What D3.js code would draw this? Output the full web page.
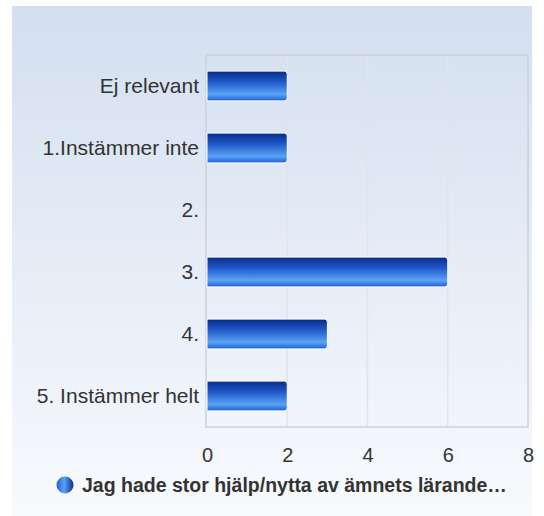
<!DOCTYPE html>
<html><head><meta charset="utf-8">
<script src="https://cdn.jsdelivr.net/npm/d3@7/dist/d3.min.js"></script>
<style>body{margin:0;background:#fff;}text{font-family:"Liberation Sans",Arial,sans-serif;}</style>
</head><body>
<svg id="c" width="544" height="516"></svg>
<script>
const categories = ["Ej relevant","1.Instämmer inte","2.","3.","4.","5. Instämmer helt"];
const values = [2,2,0,6,3,2];
const xTicks = [0,2,4,6,8];
const seriesName = "Jag hade stor hjälp/nytta av ämnets lärande…";

const svg = d3.select("#c");
const defs = svg.append("defs");
const bg = defs.append("linearGradient").attr("id","bg").attr("x1",0).attr("y1",0).attr("x2",0).attr("y2",1);
bg.append("stop").attr("offset","0%").attr("stop-color","#d3dff0");
bg.append("stop").attr("offset","100%").attr("stop-color","#f8fafd");
const bar = defs.append("linearGradient").attr("id","bar").attr("x1",0).attr("y1",0).attr("x2",0).attr("y2",1);
[["0%","#0a2a8a"],["35%","#1d57c6"],["78%","#5aa2f6"],["100%","#1f5fd0"]].forEach(([o,c])=>bar.append("stop").attr("offset",o).attr("stop-color",c));
const leg = defs.append("linearGradient").attr("id","leg").attr("x1",0).attr("y1",0).attr("x2",1).attr("y2",0);
[["0%","#1f5fd0"],["45%","#5aa2f6"],["100%","#0a2a8a"]].forEach(([o,c])=>leg.append("stop").attr("offset",o).attr("stop-color",c));

svg.append("rect").attr("x",12).attr("y",6).attr("width",520).attr("height",510).attr("fill","url(#bg)");

const L=207, R=528, T=55, B=427;
const x = d3.scaleLinear().domain([0,8]).range([L,R]);
const y = d3.scaleBand().domain(categories).range([T,B]).paddingInner(0.52).paddingOuter(0.26);

svg.append("g").selectAll("line").data(xTicks.slice(1,-1)).join("line")
  .attr("x1",d=>x(d)).attr("x2",d=>x(d)).attr("y1",T).attr("y2",B)
  .attr("stroke","#e2e4e8").attr("stroke-width",1.5);

svg.append("rect").attr("x",L-1).attr("y",T).attr("width",R-L+1).attr("height",B-T)
  .attr("fill","none").attr("stroke","#cfd0d3").attr("stroke-width",1.5);

svg.append("g").selectAll("path").data(values).join("path")
  .attr("d",(d,i)=>{
    const x0=x(0), x1=x(d), y0=y(categories[i]), h=y.bandwidth(), r=Math.min(3,(x1-x0));
    if (d<=0) return "";
    return `M${x0},${y0}H${x1-r}Q${x1},${y0} ${x1},${y0+r}V${y0+h-r}Q${x1},${y0+h} ${x1-r},${y0+h}H${x0}Z`;
  })
  .attr("fill","url(#bar)").attr("stroke","#ffffff").attr("stroke-width",1);

const ya = svg.append("g").attr("transform",`translate(${L},0)`)
  .call(d3.axisLeft(y).tickSize(0).tickPadding(8));
ya.select(".domain").remove();
ya.selectAll("text").attr("font-size",21).attr("fill","#333").style("font-family","Liberation Sans, Arial, sans-serif");

const xa = svg.append("g").attr("transform",`translate(0,${B})`)
  .call(d3.axisBottom(x).tickValues(xTicks).tickSize(0).tickPadding(21).tickFormat(d3.format("d")));
xa.select(".domain").remove();
xa.selectAll("text").attr("font-size",20).attr("fill","#333").style("font-family","Liberation Sans, Arial, sans-serif");

svg.append("circle").attr("cx",65).attr("cy",485).attr("r",8.5).attr("fill","url(#leg)");
svg.append("text").attr("x",82).attr("y",492).attr("font-size",19.5).attr("font-weight","bold")
  .attr("fill","#333").text(seriesName);
</script>
</body></html>
